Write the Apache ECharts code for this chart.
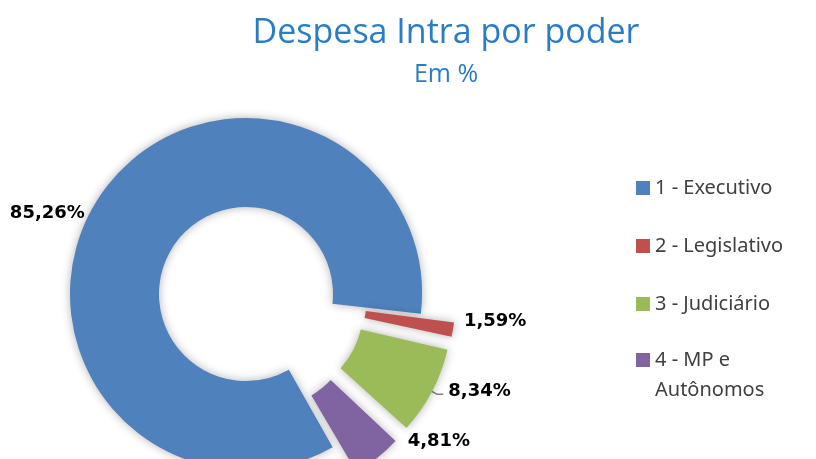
<!DOCTYPE html>
<html>
<head>
<meta charset="utf-8">
<title>Despesa Intra por poder</title>
<script src="https://cdn.jsdelivr.net/npm/echarts@6/dist/echarts.min.js"></script>
<style>
  html, body { margin: 0; padding: 0; background: #fff; }
  #chart { width: 816px; height: 459px; }
</style>
</head>
<body>
<div id="chart"></div>
<script>
// dados do gráfico (em %)
var categorias = ['1 - Executivo', '2 - Legislativo', '3 - Judiciário', '4 - MP e Autônomos']
var valores = [85.26, 1.59, 8.34, 4.81]
var cores = ['#4f81bd', '#c0504d', '#9bbb59', '#8064a2']
// fatias destacadas no original
var destacadas = [false, true, true, true]
// pequenos ajustes de posição dos rótulos [dx, dy]
var ajustesRotulo = [[-4, 19], [0, -9], [0, -3], [21, -20]]

var myChart = echarts.init(document.getElementById('chart'))

var dados = valores.map(function (v, i) {
  return {
    name: categorias[i],
    value: v,
    selected: destacadas[i],
    itemStyle: { color: cores[i] },
    // só o Judiciário tem linha de chamada
    labelLine: i === 2 ? { show: true, length: 6, length2: 6 } : { show: false }
  }
})

var legendaTexto = {
  fontFamily: 'Noto Sans',
  fontSize: 20,
  lineHeight: 30,
  color: '#404040'
}

myChart.setOption({
  title: {
    text: 'Despesa Intra por poder',
    subtext: 'Em %',
    left: 446,
    top: 16,
    padding: 0,
    itemGap: 12,
    textAlign: 'center',
    textStyle: {
      fontFamily: 'Open Sans',
      fontWeight: 'normal',
      fontSize: 34,
      color: '#2a7cc7'
    },
    subtextStyle: {
      fontFamily: 'Open Sans',
      fontSize: 25,
      color: '#2a7cc7'
    }
  },
  legend: [
    {
      orient: 'vertical',
      left: 636,
      top: 173,
      padding: 0,
      itemWidth: 14,
      itemHeight: 14,
      itemGap: 28,
      icon: 'rect',
      selectedMode: false,
      data: categorias.slice(0, 3),
      textStyle: legendaTexto
    },
    {
      // último item em duas linhas, quadrado alinhado com a 1a linha
      orient: 'vertical',
      left: 636,
      top: 315,
      padding: 0,
      itemWidth: 14,
      itemHeight: 14,
      icon: 'rect',
      selectedMode: false,
      data: categorias.slice(3),
      formatter: function (name) {
        return '\n' + name.replace('MP e ', 'MP e\n')
      },
      textStyle: legendaTexto
    }
  ],
  series: [{
    type: 'pie',
    center: [246, 294],
    radius: [87, 176],
    startAngle: -60,
    clockwise: true,
    padAngle: 1,
    selectedMode: 'multiple',
    selectedOffset: 34,
    avoidLabelOverlap: false,
    emphasis: { scale: false },
    itemStyle: {
      shadowBlur: 10,
      shadowColor: 'rgba(0, 0, 0, 0.3)'
    },
    label: {
      show: true,
      position: 'outside',
      fontFamily: 'DejaVu Sans',
      fontWeight: 'bold',
      fontSize: 18,
      color: '#000',
      formatter: function (p) {
        return p.value.toFixed(2).replace('.', ',') + '%'
      }
    },
    labelLine: {
      length: 4,
      length2: 2,
      lineStyle: { color: '#7f7f7f', width: 1.5 }
    },
    labelLayout: function (p) {
      var a = ajustesRotulo[p.dataIndex]
      return { dx: a[0], dy: a[1] }
    },
    data: dados
  }]
})
</script>
</body>
</html>
